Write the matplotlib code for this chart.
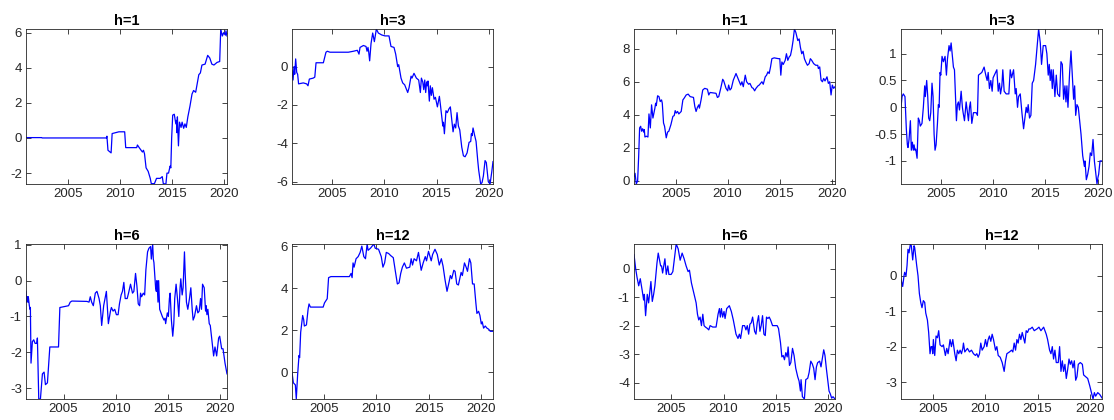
import matplotlib
matplotlib.use("Agg")
import matplotlib.pyplot as plt
from matplotlib.ticker import MultipleLocator, FormatStrFormatter

# ---- left block ----
left_h1_t = [2001.0, 2002.5, 2002.55, 2008.7, 2008.75, 2008.85, 2009.15, 2009.25, 2009.9, 2010.45,
             2010.55, 2011.6, 2011.67, 2011.9, 2012.15, 2012.25, 2012.35, 2012.5, 2012.7, 2012.9,
             2013.0, 2013.3, 2013.5, 2013.85, 2014.05, 2014.15, 2014.4, 2014.5, 2014.65, 2014.8,
             2014.87, 2014.95, 2015.05, 2015.2, 2015.35, 2015.42, 2015.45, 2015.5, 2015.6, 2015.7,
             2015.85, 2015.95, 2016.1, 2016.22, 2016.35, 2016.5, 2016.7, 2016.9, 2017.05, 2017.25,
             2017.55, 2017.7, 2017.85, 2018.15, 2018.4, 2018.6, 2018.8, 2019.0, 2019.3, 2019.55,
             2019.65, 2019.8, 2019.95, 2020.1, 2020.15, 2020.25]
left_h1_v = [0.02, 0.02, 0.0, 0.0, 0.1, -0.7, -0.85, 0.25, 0.35, 0.35,
             -0.55, -0.55, -0.4, -0.6, -0.8, -0.7, -0.9, -1.7, -1.9, -2.3,
             -2.6, -2.6, -2.3, -2.3, -2.2, -2.6, -2.62, -2.0, -2.0, -1.6,
             -1.7, 0.0, 1.3, 1.35, 0.8, 1.0, 0.3, 1.2, -0.45, 0.9,
             0.6, 0.9, 0.55, 0.8, 0.6, 1.2, 1.8, 2.5, 2.7, 2.6,
             3.6, 3.7, 4.15, 4.2, 4.7, 4.55, 4.2, 4.15, 4.3, 4.35,
             6.2, 5.8, 6.0, 5.85, 6.1, 5.8]

left_h3_t = [2001.17, 2001.27, 2001.36, 2001.43, 2001.52, 2001.62, 2001.71, 2001.8, 2002.25, 2002.57,
             2002.7, 2002.83, 2003.2, 2003.35, 2003.47, 2004.17, 2004.42, 2004.55, 2004.8, 2006.56,
             2007.04, 2007.42, 2007.58, 2007.68, 2008.0, 2008.25, 2008.35, 2008.44, 2008.5, 2008.6,
             2008.73, 2008.89, 2009.05, 2009.24, 2009.43, 2009.75, 2010.07, 2010.45, 2010.64, 2010.93,
             2011.09, 2011.28, 2011.38, 2011.6, 2011.76, 2011.95, 2012.24, 2012.37, 2012.56, 2012.65,
             2012.84, 2013.07, 2013.29, 2013.45, 2013.55, 2013.68, 2013.77, 2013.87, 2013.96, 2014.05,
             2014.12, 2014.18, 2014.31, 2014.4, 2014.5, 2014.6, 2014.76, 2014.89, 2015.08, 2015.27,
             2015.37, 2015.6, 2015.66, 2015.75, 2015.9, 2016.03, 2016.19, 2016.32, 2016.48, 2016.58,
             2016.7, 2016.83, 2016.96, 2017.09, 2017.22, 2017.41, 2017.57, 2017.73, 2017.92, 2018.11,
             2018.27, 2018.33, 2018.4, 2018.49, 2018.65, 2018.78, 2018.94, 2019.03, 2019.22, 2019.35,
             2019.48, 2019.64, 2019.76, 2019.95, 2020.12, 2020.28, 2020.4]
left_h3_v = [-0.2, -0.7, 0.0, -0.4, 0.4, -0.3, -0.4, -0.9, -0.85, -0.9,
             -1.0, -0.65, -0.6, -0.55, 0.2, 0.2, 0.75, 0.8, 0.75, 0.75,
             0.8, 0.85, 0.65, 1.0, 1.1, 1.05, 0.8, 1.0, 0.8, 0.3,
             1.2, 1.75, 1.3, 1.96, 1.75, 1.65, 1.6, 1.6, 1.05, 1.0,
             0.65, 0.0, 0.1, -0.6, -0.85, -0.95, -1.35, -1.1, -0.5, -0.6,
             -0.35, -0.6, -0.7, -1.35, -0.6, -0.8, -1.2, -0.7, -1.35, -0.8,
             -1.0, -0.75, -1.8, -1.0, -1.5, -1.1, -1.7, -1.6, -2.1, -1.55,
             -2.0, -3.1, -2.9, -3.5, -2.3, -2.4, -2.2, -2.1, -2.9, -3.4,
             -3.0, -3.2, -2.4, -3.1, -3.3, -4.2, -4.65, -4.7, -4.5, -3.95,
             -3.9, -3.5, -3.6, -3.2, -3.6, -3.9, -4.9, -5.4, -6.12, -6.05,
             -5.7, -4.9, -5.0, -6.0, -6.12, -5.5, -4.95]

left_h6_t = [2001.41, 2001.47, 2001.54, 2001.6, 2001.63, 2001.73, 2001.8, 2001.83, 2001.89, 2002.02,
             2002.15, 2002.28, 2002.44, 2002.5, 2002.63, 2002.79, 2002.98, 2003.14, 2003.27, 2003.46,
             2003.56, 2003.69, 2004.52, 2004.65, 2005.16, 2005.48, 2005.64, 2005.8, 2007.24, 2007.44,
             2007.56, 2007.69, 2007.85, 2008.04, 2008.2, 2008.4, 2008.52, 2008.65, 2008.84, 2008.94,
             2009.1, 2009.29, 2009.49, 2009.58, 2009.74, 2009.9, 2010.06, 2010.22, 2010.35, 2010.51,
             2010.64, 2010.77, 2010.9, 2011.09, 2011.22, 2011.41, 2011.6, 2011.73, 2011.89, 2012.02,
             2012.15, 2012.28, 2012.37, 2012.47, 2012.63, 2012.76, 2012.88, 2013.04, 2013.17, 2013.33,
             2013.4, 2013.53, 2013.59, 2013.65, 2013.81, 2013.88, 2013.94, 2014.04, 2014.1, 2014.2,
             2014.33, 2014.45, 2014.61, 2014.71, 2014.77, 2014.93, 2015.03, 2015.13, 2015.2, 2015.32,
             2015.45, 2015.55, 2015.64, 2015.77, 2015.9, 2016.03, 2016.15, 2016.22, 2016.35, 2016.44,
             2016.57, 2016.64, 2016.76, 2016.89, 2017.05, 2017.18, 2017.31, 2017.4, 2017.53, 2017.72,
             2017.85, 2017.98, 2018.11, 2018.2, 2018.3, 2018.46, 2018.59, 2018.65, 2018.72, 2018.81,
             2018.94, 2019.04, 2019.36, 2019.49, 2019.65, 2019.84, 2019.94, 2020.13, 2020.26, 2020.45,
             2020.64]
left_h6_v = [-0.3, -0.6, -0.45, -0.6, -0.45, -0.7, -0.8, -0.75, -2.3, -1.7,
             -1.65, -1.75, -1.75, -1.6, -3.3, -3.3, -2.6, -2.55, -2.9, -2.85,
             -2.4, -1.85, -1.85, -0.75, -0.72, -0.7, -0.6, -0.57, -0.58, -0.6,
             -0.45, -0.6, -0.7, -0.35, -0.3, -0.5, -0.7, -1.25, -0.7, -0.55,
             -0.3, -1.2, -0.85, -0.75, -0.85, -0.8, -0.95, -0.95, -0.65, -0.4,
             -0.3, -0.05, -0.5, -0.5, -0.35, -0.1, -0.35, -0.3, 0.2, -0.15,
             -0.65, -0.7, -0.35, -0.45, -0.35, -0.4, 0.3, 0.8, 0.9, 0.95,
             0.6, 1.02, 0.6, 0.5, -0.2, -0.3, 0.0, -0.6, 0.0, -0.8,
             -0.9, -1.0, -1.1, -1.05, -1.2, -0.9, -1.0, -0.5, -0.35, -1.1,
             -1.55, -1.2, -0.5, -0.1, -0.5, -1.0, -0.2, 0.05, -0.4, -0.2,
             0.8, 0.2, -0.6, -0.8, -0.5, -0.2, -0.8, -1.1, -1.0, -0.7,
             -0.9, -0.85, -0.5, -0.8, -0.1, -0.2, -0.85, -0.7, -0.95, -0.8,
             -1.2, -1.25, -2.1, -1.85, -2.1, -1.6, -1.55, -1.9, -1.9, -2.3,
             -2.6]

left_h12_t = [2001.92, 2002.05, 2002.24, 2002.33, 2002.46, 2002.59, 2002.65, 2002.75, 2002.94, 2003.04,
              2003.1, 2003.3, 2003.46, 2003.55, 2003.68, 2004.9, 2005.03, 2005.29, 2005.42, 2005.64,
              2007.41, 2007.57, 2007.67, 2007.76, 2007.86, 2008.05, 2008.25, 2008.44, 2008.6, 2008.79,
              2008.95, 2009.11, 2009.2, 2009.43, 2009.75, 2009.88, 2010.2, 2010.46, 2010.62, 2010.78,
              2010.94, 2011.16, 2011.36, 2011.61, 2011.81, 2012.0, 2012.16, 2012.32, 2012.48, 2012.67,
              2012.87, 2013.19, 2013.32, 2013.45, 2013.6, 2013.83, 2014.02, 2014.28, 2014.47, 2014.67,
              2014.79, 2014.98, 2015.24, 2015.37, 2015.6, 2015.82, 2016.01, 2016.21, 2016.37, 2016.56,
              2016.75, 2016.95, 2017.07, 2017.2, 2017.4, 2017.52, 2017.68, 2017.84, 2018.1, 2018.22,
              2018.42, 2018.58, 2018.71, 2018.9, 2019.03, 2019.19, 2019.35, 2019.51, 2019.61, 2019.77,
              2019.9, 2020.03, 2020.12, 2020.25, 2020.41, 2020.57, 2020.73, 2020.89, 2021.15]
left_h12_v = [0.0, -0.5, -0.6, -1.27, -0.1, 0.8, 0.7, 1.9, 2.7, 2.5,
              2.2, 2.25, 3.0, 3.25, 3.1, 3.1, 3.3, 3.5, 4.5, 4.55,
              4.55, 4.7, 4.5, 5.2, 5.0, 5.4, 5.5, 5.7, 6.0, 5.5,
              5.4, 6.1, 5.8, 5.9, 6.1, 5.9, 5.85, 5.5, 5.0, 5.2,
              5.7, 5.65, 5.55, 5.45, 4.8, 4.2, 4.25, 4.7, 5.0, 5.2,
              4.95, 5.0, 5.4, 5.1, 5.4, 5.3, 5.7, 4.85, 5.2, 5.5,
              5.3, 5.75, 5.3, 5.6, 5.85, 5.6, 5.1, 5.4, 5.05, 4.4,
              3.85, 4.3, 4.6, 4.45, 4.85, 4.8, 4.2, 4.15, 4.75, 4.6,
              5.2, 5.0, 4.8, 5.4, 5.2, 4.2, 4.2, 3.3, 2.8, 2.9,
              2.7, 2.3, 2.4, 2.1, 2.2, 2.1, 2.05, 1.95, 1.95]

# ---- right block ----
right_h1_t = [2001.0, 2001.1, 2001.22, 2001.35, 2001.45, 2001.54, 2001.64, 2001.73, 2001.83, 2001.93,
              2001.99, 2002.05, 2002.18, 2002.34, 2002.44, 2002.57, 2002.69, 2002.82, 2003.01, 2003.08,
              2003.14, 2003.27, 2003.4, 2003.52, 2003.65, 2003.72, 2003.84, 2003.94, 2004.1, 2004.23,
              2004.35, 2004.55, 2004.74, 2004.87, 2004.96, 2005.06, 2005.19, 2005.31, 2005.54, 2005.7,
              2005.82, 2006.02, 2006.21, 2006.4, 2006.72, 2006.85, 2006.97, 2007.1, 2007.23, 2007.29,
              2007.45, 2007.61, 2007.8, 2008.06, 2008.19, 2008.32, 2008.89, 2009.02, 2009.15, 2009.34,
              2009.53, 2009.63, 2009.85, 2010.01, 2010.1, 2010.23, 2010.36, 2010.55, 2010.81, 2010.94,
              2011.06, 2011.26, 2011.38, 2011.51, 2011.7, 2011.83, 2012.02, 2012.15, 2012.34, 2012.47,
              2012.6, 2012.73, 2012.92, 2013.04, 2013.3, 2013.43, 2013.62, 2013.75, 2013.88, 2014.0,
              2014.13, 2014.26, 2014.48, 2014.9, 2015.02, 2015.12, 2015.22, 2015.35, 2015.54, 2015.66,
              2015.79, 2015.92, 2016.05, 2016.18, 2016.3, 2016.43, 2016.56, 2016.75, 2016.88, 2017.0,
              2017.13, 2017.26, 2017.39, 2017.52, 2017.68, 2017.84, 2017.96, 2018.09, 2018.28, 2018.48,
              2018.67, 2018.73, 2018.86, 2018.99, 2019.12, 2019.24, 2019.37, 2019.56, 2019.69, 2019.82,
              2019.95, 2020.07, 2020.2, 2020.33]
right_h1_v = [0.25, 0.45, -0.2, 0.0, 1.5, 3.2, 3.3, 3.0, 3.15, 2.95,
              3.1, 2.65, 2.7, 2.65, 4.05, 3.2, 4.6, 3.8, 4.4, 4.7,
              4.55, 5.15, 5.1, 4.8, 4.9, 4.7, 3.5, 3.3, 2.6, 2.95,
              3.0, 3.4, 3.9, 3.95, 4.25, 4.1, 4.2, 4.05, 4.2, 4.9,
              5.0, 5.2, 5.25, 5.1, 5.05, 4.5, 4.2, 4.45, 4.6, 4.4,
              4.9, 5.5, 5.6, 5.55, 5.2, 5.35, 5.3, 5.05, 5.1, 5.6,
              6.15, 6.05, 5.6, 5.45, 5.8, 5.5, 5.6, 6.1, 6.5, 6.3,
              6.1, 5.8, 6.0, 5.7, 6.4, 6.0, 5.85, 5.9, 5.65, 5.6,
              5.45, 5.6, 5.75, 5.8, 6.0, 5.85, 6.3, 6.4, 6.6, 6.5,
              6.9, 7.4, 7.45, 7.4, 7.4, 6.4, 7.2, 7.05, 7.3, 7.7,
              7.3, 7.5, 7.6, 8.0, 8.5, 9.2, 9.0, 8.5, 8.6, 8.1,
              7.7, 7.85, 7.4, 7.2, 7.0, 7.1, 7.4, 7.3, 7.1, 7.0,
              7.0, 6.8, 6.9, 6.1, 6.0, 6.2, 6.05, 6.3, 5.9, 6.0,
              5.2, 5.8, 5.6, 5.7]

right_h3_t = [2001.17, 2001.27, 2001.39, 2001.55, 2001.68, 2001.78, 2001.84, 2001.94, 2002.07, 2002.16,
              2002.26, 2002.35, 2002.42, 2002.51, 2002.58, 2002.71, 2002.83, 2002.93, 2003.02, 2003.18,
              2003.31, 2003.44, 2003.5, 2003.63, 2003.73, 2003.82, 2003.92, 2004.02, 2004.14, 2004.24,
              2004.34, 2004.43, 2004.53, 2004.66, 2004.75, 2004.82, 2004.91, 2004.98, 2005.1, 2005.23,
              2005.39, 2005.52, 2005.62, 2005.77, 2005.87, 2005.97, 2006.19, 2006.29, 2006.48, 2006.57,
              2006.67, 2006.77, 2006.93, 2007.05, 2007.12, 2007.25, 2007.41, 2007.5, 2007.63, 2007.73,
              2007.82, 2007.95, 2008.11, 2008.37, 2008.49, 2008.59, 2008.91, 2009.13, 2009.29, 2009.42,
              2009.52, 2009.64, 2009.77, 2009.9, 2009.99, 2010.35, 2010.48, 2010.6, 2010.7, 2010.83,
              2010.92, 2011.05, 2011.24, 2011.5, 2011.63, 2011.76, 2011.95, 2012.11, 2012.2, 2012.33,
              2012.43, 2012.59, 2012.75, 2012.91, 2013.03, 2013.16, 2013.26, 2013.35, 2013.48, 2013.61,
              2013.74, 2013.87, 2014.06, 2014.35, 2014.51, 2014.63, 2014.79, 2015.02, 2015.14, 2015.27,
              2015.37, 2015.46, 2015.56, 2015.66, 2015.75, 2015.91, 2016.04, 2016.17, 2016.36, 2016.49,
              2016.62, 2016.74, 2016.87, 2016.97, 2017.06, 2017.16, 2017.32, 2017.45, 2017.58, 2017.7,
              2017.8, 2017.9, 2018.02, 2018.15, 2018.28, 2018.41, 2018.57, 2018.73, 2018.79, 2018.92,
              2019.05, 2019.18, 2019.3, 2019.43, 2019.56, 2019.69, 2019.81, 2019.94, 2020.04, 2020.1,
              2020.23, 2020.42]
right_h3_v = [0.0, 0.2, 0.25, 0.2, -0.4, -0.7, -0.75, -0.6, -0.25, -0.8,
              -0.65, -0.8, -0.7, -0.8, -0.78, -0.95, -0.2, -0.25, -0.35, -0.3,
              0.0, 0.4, 0.2, 0.5, 0.2, -0.2, -0.25, -0.1, 0.45, 0.2,
              -0.5, -0.8, -0.7, -0.3, 0.05, 0.0, 0.65, 0.6, 0.95, 0.85,
              0.95, 0.6, 0.9, 1.15, 1.05, 1.2, 0.75, 0.7, -0.25, 0.05,
              0.1, -0.05, 0.3, 0.0, -0.1, -0.25, 0.1, -0.05, -0.25, 0.0,
              0.1, -0.3, -0.1, -0.1, -0.15, 0.6, 0.65, 0.75, 0.6, 0.5,
              0.65, 0.35, 0.5, 0.3, 0.55, 0.7, 0.3, 0.45, 0.25, 0.4,
              0.7, 0.3, 0.25, 0.25, 0.7, 0.55, 0.7, 0.25, 0.35, 0.0,
              0.2, 0.25, -0.1, -0.4, -0.2, 0.0, -0.1, 0.05, -0.2, -0.15,
              0.45, 0.5, 0.8, 1.46, 1.2, 0.8, 1.15, 1.15, 1.0, 0.6,
              0.8, 0.5, 0.7, 0.35, 0.7, 0.2, 0.6, 0.25, 0.2, 0.85,
              0.8, 0.15, 0.4, 0.1, 0.4, 0.0, 0.65, 1.05, 0.6, 0.15,
              0.4, -0.15, 0.05, 0.0, -0.25, -0.5, -0.9, -1.1, -1.0, -1.35,
              -1.25, -1.1, -0.85, -0.9, -0.6, -1.0, -1.2, -1.43, -1.3, -1.25,
              -1.0, -1.0]

right_h6_t = [2001.42, 2001.58, 2001.71, 2001.87, 2002.02, 2002.22, 2002.34, 2002.41, 2002.53, 2002.69,
              2002.82, 2003.04, 2003.17, 2003.3, 2003.42, 2003.62, 2003.74, 2003.87, 2003.97, 2004.06,
              2004.16, 2004.38, 2004.51, 2004.66, 2004.76, 2004.98, 2005.14, 2005.27, 2005.46, 2005.65,
              2005.84, 2006.03, 2006.22, 2006.41, 2006.6, 2006.73, 2006.92, 2007.05, 2007.24, 2007.37,
              2007.5, 2007.62, 2007.75, 2007.88, 2008.01, 2008.13, 2008.26, 2008.45, 2008.58, 2008.71,
              2008.96, 2009.28, 2009.47, 2009.6, 2009.69, 2009.79, 2009.91, 2010.04, 2010.14, 2010.3,
              2010.55, 2010.74, 2010.93, 2011.19, 2011.38, 2011.51, 2011.63, 2011.82, 2012.01, 2012.14,
              2012.27, 2012.4, 2012.52, 2012.65, 2012.78, 2012.97, 2013.1, 2013.22, 2013.35, 2013.48,
              2013.6, 2013.73, 2013.86, 2013.99, 2014.11, 2014.24, 2014.37, 2014.5, 2014.69, 2015.13,
              2015.26, 2015.45, 2015.58, 2015.71, 2015.83, 2015.96, 2016.09, 2016.18, 2016.31, 2016.44,
              2016.6, 2016.75, 2016.91, 2017.1, 2017.23, 2017.36, 2017.42, 2017.55, 2017.74, 2017.87,
              2018.06, 2018.19, 2018.35, 2018.5, 2018.63, 2018.76, 2018.89, 2019.01, 2019.2, 2019.33,
              2019.46, 2019.59, 2019.71, 2019.84, 2020.1, 2020.22, 2020.35, 2020.48, 2020.67]
right_h6_v = [0.5, 0.0, -0.3, -0.6, -0.35, -0.8, -1.1, -0.9, -1.65, -0.9,
              -1.2, -0.45, -1.15, -0.9, -0.6, 0.2, 0.55, 0.3, 0.1, 0.1,
              -0.15, 0.35, -0.2, 0.1, -0.2, -0.2, -0.1, 0.3, 0.87, 0.7,
              0.3, 0.55, 0.35, 0.1, -0.1, -0.05, -0.5, -0.7, -1.0, -1.2,
              -1.6, -1.8, -1.7, -2.0, -1.6, -2.0, -2.05, -2.1, -2.15, -2.0,
              -2.05, -2.05, -1.6, -1.4, -1.7, -1.4, -1.7, -1.5, -1.75, -1.4,
              -1.3, -1.5, -1.8, -2.3, -2.45, -2.3, -2.45, -2.0, -2.0, -2.15,
              -2.0, -2.3, -1.95, -1.9, -1.7, -2.2, -2.3, -1.9, -1.65, -2.2,
              -2.0, -1.65, -2.3, -2.35, -1.7, -1.75, -1.7, -1.8, -2.0, -2.0,
              -2.1, -2.6, -3.1, -3.05, -3.2, -2.95, -3.1, -2.75, -3.4, -3.3,
              -2.8, -3.05, -3.5, -3.8, -3.95, -4.3, -3.9, -4.5, -4.58, -3.9,
              -3.85, -3.65, -3.25, -3.35, -3.5, -3.9, -3.45, -3.3, -3.25, -3.45,
              -3.15, -2.85, -3.05, -3.5, -4.3, -4.4, -4.55, -4.5, -4.58]

right_h12_t = [2001.92, 2002.08, 2002.21, 2002.27, 2002.4, 2002.5, 2002.59, 2002.69, 2002.82, 2002.91,
               2003.04, 2003.17, 2003.23, 2003.42, 2003.55, 2003.68, 2003.81, 2003.93, 2004.06, 2004.19,
               2004.29, 2004.45, 2004.57, 2004.7, 2004.8, 2004.89, 2004.96, 2005.02, 2005.15, 2005.28,
               2005.41, 2005.53, 2005.66, 2005.85, 2005.98, 2006.17, 2006.3, 2006.43, 2006.62, 2006.75,
               2006.88, 2007.07, 2007.2, 2007.32, 2007.45, 2007.58, 2007.71, 2007.84, 2007.9, 2008.03,
               2008.16, 2008.28, 2008.48, 2008.67, 2008.86, 2009.05, 2009.18, 2009.31, 2009.44, 2009.56,
               2009.69, 2009.88, 2010.01, 2010.14, 2010.27, 2010.39, 2010.52, 2010.65, 2010.78, 2010.97,
               2011.1, 2011.23, 2011.42, 2011.61, 2011.8, 2011.93, 2012.06, 2012.31, 2012.51, 2012.63,
               2012.76, 2012.89, 2013.02, 2013.14, 2013.27, 2013.4, 2013.53, 2013.66, 2013.78, 2013.91,
               2014.04, 2014.17, 2014.3, 2014.49, 2014.68, 2014.94, 2015.13, 2015.32, 2015.58, 2015.83,
               2015.96, 2016.15, 2016.28, 2016.41, 2016.53, 2016.66, 2016.79, 2016.98, 2017.11, 2017.24,
               2017.37, 2017.49, 2017.62, 2017.75, 2017.88, 2018.01, 2018.13, 2018.26, 2018.39, 2018.52,
               2018.65, 2018.77, 2018.9, 2019.09, 2019.29, 2019.41, 2019.6, 2019.8, 2019.99, 2020.12,
               2020.31, 2020.44, 2020.56, 2020.76, 2020.95, 2021.17]
right_h12_v = [-0.1, -0.3, 0.0, 0.1, 0.0, 0.3, 0.75, 0.65, 0.9, 0.85,
               0.45, 0.85, 0.8, 0.3, 0.0, -0.5, -0.75, -0.9, -0.7, -0.75,
               -1.05, -1.25, -1.6, -2.2, -2.0, -2.0, -2.2, -1.8, -2.25, -1.7,
               -1.75, -1.55, -1.95, -2.0, -1.95, -2.25, -2.05, -2.2, -1.8, -2.0,
               -1.8, -2.2, -2.4, -2.1, -2.2, -2.1, -2.2, -2.05, -1.9, -2.15,
               -2.1, -2.05, -2.15, -2.1, -2.2, -2.25, -2.2, -2.3, -2.2, -1.9,
               -2.1, -2.0, -1.8, -2.0, -1.8, -1.7, -1.85, -1.65, -1.8, -2.1,
               -2.0, -2.25, -2.3, -2.45, -2.7, -2.4, -2.2, -2.15, -2.1, -2.15,
               -1.9, -2.1, -1.8, -1.9, -1.65, -1.8, -1.6, -1.75, -1.9, -1.55,
               -1.6, -1.5, -1.5, -1.45, -1.55, -1.5, -1.45, -1.55, -1.45, -1.65,
               -1.8, -2.1, -2.2, -2.0, -2.35, -2.1, -2.45, -2.45, -2.0, -2.7,
               -2.4, -2.7, -2.5, -2.9, -2.65, -2.35, -2.5, -2.4, -2.6, -2.4,
               -2.95, -2.85, -2.5, -2.45, -2.5, -2.8, -2.85, -2.9, -3.1, -3.25,
               -3.48, -3.3, -3.4, -3.3, -3.35, -3.45]

titles = ["h=1", "h=3", "h=6", "h=12"]
year_ticks = [2005, 2010, 2015, 2020]

plt.rcParams["font.family"] = ["Liberation Sans", "DejaVu Sans"]
plt.rcParams["axes.unicode_minus"] = False

W, H = 1114, 420
fig = plt.figure(figsize=(W / 100, H / 100), dpi=100)

# (t, v, title, left px, bottom px, y tick step)
panels = [
    (left_h1_t, left_h1_v, titles[0], 26, 184, 2),
    (left_h3_t, left_h3_v, titles[1], 292, 184, 2),
    (left_h6_t, left_h6_v, titles[2], 26, 399, 1),
    (left_h12_t, left_h12_v, titles[3], 292, 399, 2),
    (right_h1_t, right_h1_v, titles[0], 634, 184, 2),
    (right_h3_t, right_h3_v, titles[1], 901, 184, 0.5),
    (right_h6_t, right_h6_v, titles[2], 634, 399, 1),
    (right_h12_t, right_h12_v, titles[3], 901, 399, 1),
]

edge = "#262626"
for t, v, title, x0, y0, step in panels:
    ax = fig.add_axes([x0 / W, (H - y0) / H, 201 / W, 155 / H])
    ax.plot(t, v, color="blue", lw=0.9)
    ax.set_xlim(t[0], t[-1])
    ax.set_ylim(min(v), max(v))
    ax.set_xticks(year_ticks)
    ax.xaxis.set_major_formatter(FormatStrFormatter("%d"))
    ax.yaxis.set_major_locator(MultipleLocator(step))
    ax.yaxis.set_major_formatter(FormatStrFormatter("%g"))
    ax.tick_params(direction="in", top=True, right=True, length=3.5, width=0.6,
                   colors=edge, labelsize=9.5, pad=3)
    for s in ax.spines.values():
        s.set_color(edge)
        s.set_linewidth(0.6)
    ax.set_title(title, fontsize=10.5, fontweight="bold", pad=3)

fig.savefig("out.png", dpi=100)
